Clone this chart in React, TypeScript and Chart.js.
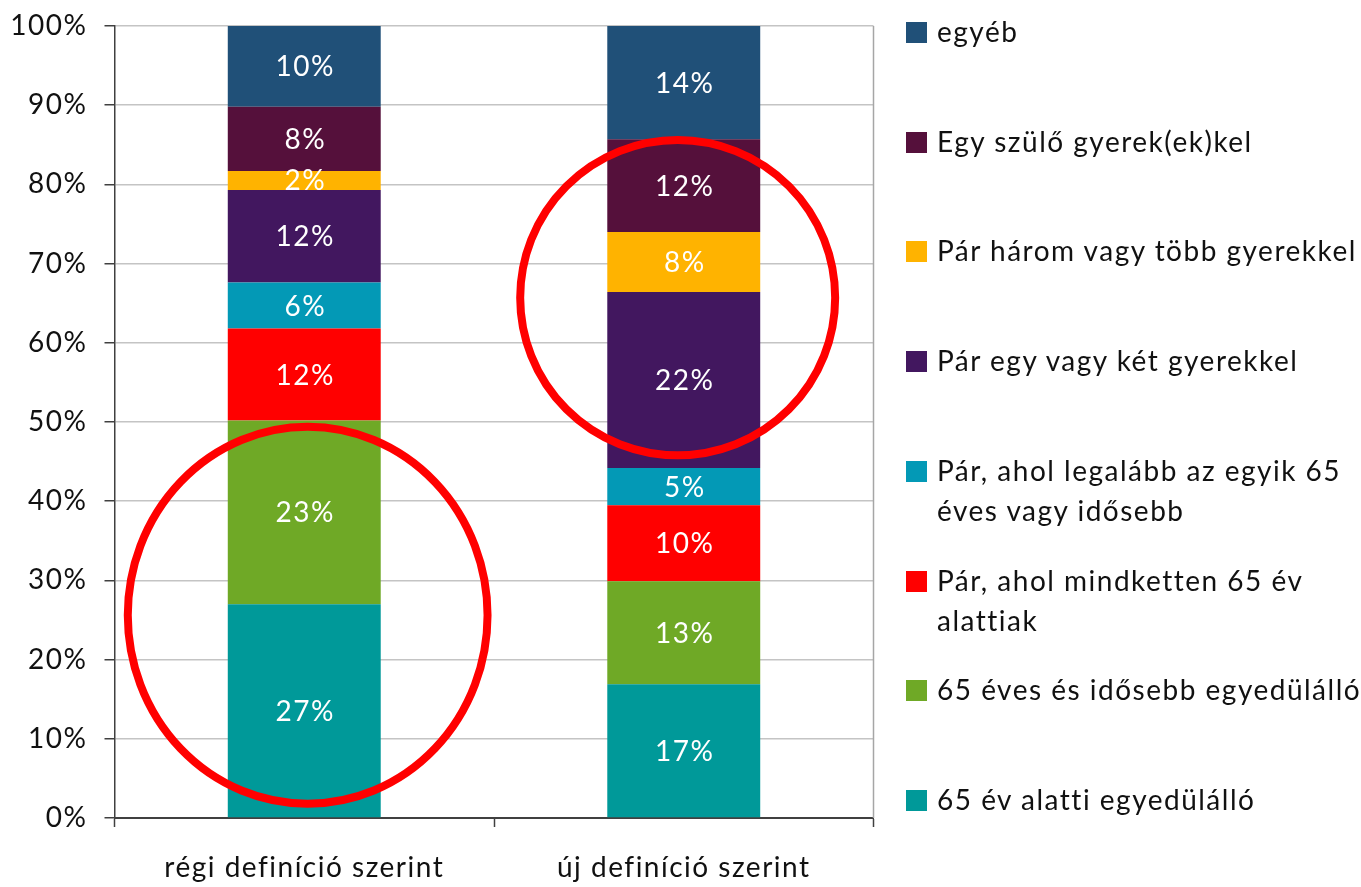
import React, { useEffect, useRef } from "react";
import { Chart, registerables } from "chart.js";

Chart.register(...registerables);

// ---------- data ----------
const categories = ["régi definíció szerint", "új definíció szerint"];

// series, bottom to top of the stack
const seriesNames = [
  "65 év alatti egyedülálló",
  "65 éves és idősebb egyedülálló",
  "Pár, ahol mindketten 65 év\nalattiak",
  "Pár, ahol legalább az egyik 65\néves vagy idősebb",
  "Pár egy vagy két gyerekkel",
  "Pár három vagy több gyerekkel",
  "Egy szülő gyerek(ek)kel",
  "egyéb",
];
const seriesColors = [
  "#009999",
  "#6FA926",
  "#FF0000",
  "#0399B6",
  "#42175F",
  "#FFB300",
  "#55103B",
  "#205078",
];
const regiValues = [27.0, 23.2, 11.6, 5.8, 11.7, 2.4, 8.1, 10.2];
const ujValues = [16.9, 13.0, 9.6, 4.7, 22.2, 7.6, 11.7, 14.3];

const yTicks = [0, 10, 20, 30, 40, 50, 60, 70, 80, 90, 100];

// red ellipse highlights (centre in category / percent units, radii likewise)
const ellipseCenterCat = [0.009, 0.984];
const ellipseCenterPct = [25.6, 65.7];
const ellipseRadiusCat = [0.474, 0.415];
const ellipseRadiusPct = [23.8, 19.9];

const FONT = "Lato";
const SPACING = "1.5px";

const spacingPlugin = {
  id: "letterSpacing",
  beforeInit(chart: any) {
    chart.ctx.letterSpacing = SPACING;
  },
  beforeDraw(chart: any) {
    chart.ctx.letterSpacing = SPACING;
  },
};

const valueLabelPlugin = {
  id: "valueLabels",
  afterDatasetsDraw(chart: any) {
    const ctx = chart.ctx;
    ctx.save();
    ctx.letterSpacing = SPACING;
    ctx.fillStyle = "#ffffff";
    ctx.font = `28px ${FONT}`;
    ctx.textAlign = "center";
    ctx.textBaseline = "middle";
    chart.data.datasets.forEach((ds: any, di: number) => {
      const meta = chart.getDatasetMeta(di);
      meta.data.forEach((el: any, i: number) => {
        const v = ds.data[i];
        const y = (el.y + el.base) / 2;
        ctx.fillText(`${Math.round(v)}%`, el.x + 1, y + 1);
      });
    });
    ctx.restore();
  },
};

const ellipsePlugin = {
  id: "ellipses",
  afterDraw(chart: any) {
    const ctx = chart.ctx;
    const xs = chart.scales.x;
    const ys = chart.scales.y;
    const p0 = xs.getPixelForValue(0);
    const p1 = xs.getPixelForValue(1);
    const cw = p1 - p0;
    const unitY = ys.getPixelForValue(0) - ys.getPixelForValue(1);
    ctx.save();
    ctx.strokeStyle = "#FF0000";
    ctx.lineWidth = 8;
    for (let i = 0; i < ellipseCenterCat.length; i++) {
      const cx = p0 + ellipseCenterCat[i] * cw;
      const cy = ys.getPixelForValue(ellipseCenterPct[i]);
      ctx.beginPath();
      ctx.ellipse(cx, cy, ellipseRadiusCat[i] * cw, ellipseRadiusPct[i] * unitY, 0, 0, Math.PI * 2);
      ctx.stroke();
    }
    ctx.restore();
  },
};

const borderPlugin = {
  id: "plotBorder",
  beforeDatasetsDraw(chart: any) {
    const { ctx, chartArea } = chart;
    ctx.save();
    ctx.strokeStyle = "#a6a6a6";
    ctx.lineWidth = 1.5;
    ctx.beginPath();
    ctx.moveTo(chartArea.right, chartArea.top);
    ctx.lineTo(chartArea.right, chartArea.bottom);
    ctx.stroke();
    ctx.restore();
  },
};

export default function App() {
  const canvasRef = useRef<HTMLCanvasElement | null>(null);

  useEffect(() => {
    if (!canvasRef.current) return;
    const datasets = seriesNames.map((name, i) => ({
      label: name,
      data: [regiValues[i], ujValues[i]],
      backgroundColor: seriesColors[i],
      borderWidth: 0,
      categoryPercentage: 1,
      barPercentage: 0.403,
    }));
    const chart = new Chart(canvasRef.current, {
      type: "bar",
      data: { labels: categories, datasets },
      plugins: [spacingPlugin, borderPlugin, valueLabelPlugin, ellipsePlugin],
      options: {
        animation: false,
        responsive: false,
        maintainAspectRatio: false,
        events: [],
        layout: { padding: { top: 26, right: 1361 - 873.5, bottom: 0, left: 0 } },
        plugins: { legend: { display: false }, tooltip: { enabled: false } },
        scales: {
          x: {
            stacked: true,
            grid: {
              display: true,
              offset: true,
              drawOnChartArea: false,
              drawTicks: true,
              tickLength: 9,
              tickColor: "#404040",
              tickWidth: 1.5,
            },
            border: { display: true, color: "#404040", width: 2 },
            ticks: {
              color: "#111",
              font: { family: FONT, size: 28 },
              padding: 24,
              maxRotation: 0,
            },
            afterFit(scale: any) {
              scale.height = 887 - 818;
              scale.paddingLeft = 0;
              scale.paddingRight = 0;
            },
          },
          y: {
            stacked: true,
            min: 0,
            max: 100,
            afterBuildTicks(scale: any) {
              scale.ticks = yTicks.map((v) => ({ value: v }));
            },
            grid: {
              color: "#c4c4c4",
              lineWidth: 1.5,
              tickLength: 10,
              tickColor: "#404040",
              tickWidth: 1.5,
            },
            border: { display: true, color: "#404040", width: 1.5 },
            ticks: {
              color: "#111",
              font: { family: FONT, size: 28 },
              padding: 17,
              callback: (v: any) => `${v}%`,
            },
            afterFit(scale: any) {
              scale.width = 114.5;
              scale.paddingTop = 0;
              scale.paddingBottom = 0;
            },
          },
        },
      },
    });
    return () => chart.destroy();
  }, []);

  const legendOrder = seriesNames.map((_, i) => seriesNames.length - 1 - i);

  return (
    <div style={{ position: "absolute", left: 0, top: 0, width: 1361, height: 887, background: "#fff" }}>
      <canvas ref={canvasRef} width={1361} height={887} style={{ position: "absolute", left: 0, top: 0 }} />
      {legendOrder.map((si, k) => (
        <div
          key={si}
          style={{ position: "absolute", left: 906, top: 33 + k * 109.7 - 22, height: 40 }}
        >
          <div
            style={{
              position: "absolute",
              left: 0,
              top: 11,
              width: 21,
              height: 21,
              background: seriesColors[si],
            }}
          />
          <div
            style={{
              position: "absolute",
              left: 31,
              top: 0,
              font: `28px ${FONT}`,
              letterSpacing: SPACING,
              lineHeight: "40px",
              whiteSpace: "pre",
              color: "#111",
            }}
          >
            {seriesNames[si]}
          </div>
        </div>
      ))}
    </div>
  );
}
